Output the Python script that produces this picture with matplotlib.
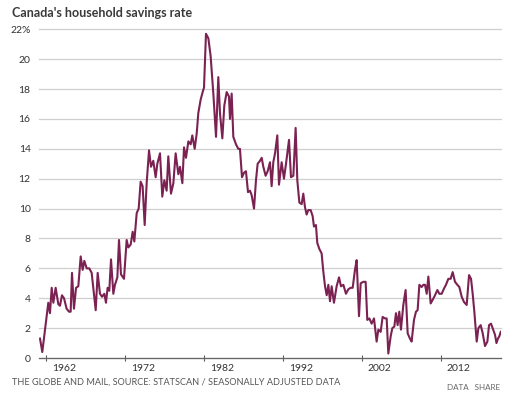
import numpy as np
import matplotlib
matplotlib.use("Agg")
import matplotlib.pyplot as plt
import matplotlib.transforms as mtransforms

# quarterly household savings rate (%)
years = [
    1961.28, 1961.57, 1962.33, 1962.54, 1962.76, 1962.97, 1963.26, 1963.60, 1963.81, 1964.06,
    1964.32, 1964.65, 1964.95, 1965.16, 1965.33, 1965.58, 1965.84, 1966.13, 1966.43, 1966.68,
    1966.89, 1967.19, 1967.52, 1967.82, 1968.33, 1968.58, 1968.87, 1969.13, 1969.42, 1969.63,
    1969.84, 1970.05, 1970.27, 1970.56, 1970.77, 1971.07, 1971.28, 1971.53, 1971.91, 1972.25,
    1972.46, 1972.76, 1973.01, 1973.22, 1973.52, 1973.77, 1974.02, 1974.27, 1974.53, 1974.78,
    1975.08, 1975.33, 1975.62, 1975.92, 1976.13, 1976.47, 1976.76, 1977.02, 1977.31, 1977.52,
    1977.86, 1978.16, 1978.45, 1978.79, 1979.00, 1979.30, 1979.51, 1979.76, 1980.06, 1980.35,
    1980.56, 1980.86, 1981.11, 1981.32, 1981.62, 1981.87, 1982.04, 1982.29, 1982.59, 1982.88,
    1983.22, 1983.56, 1983.85, 1984.06, 1984.36, 1984.61, 1984.91, 1985.20, 1985.33, 1985.54,
    1985.75, 1986.09, 1986.38, 1986.59, 1986.85, 1987.10, 1987.35, 1987.61, 1987.86, 1988.07,
    1988.37, 1988.62, 1988.83, 1989.13, 1989.34, 1989.55, 1989.84, 1990.10, 1990.39, 1990.60,
    1990.81, 1991.03, 1991.32, 1991.53, 1991.87, 1992.16, 1992.42, 1992.80, 1993.05, 1993.35,
    1993.64, 1993.85, 1994.11, 1994.40, 1994.61, 1994.82, 1995.03, 1995.24, 1995.54, 1995.79,
    1995.96, 1996.21, 1996.38, 1996.64, 1996.93, 1997.14, 1997.36, 1997.57, 1997.78, 1997.99,
    1998.20, 1998.49, 1998.83, 1999.13, 1999.38, 1999.68, 2000.01, 2000.31, 2000.60, 2000.86,
    2001.15, 2001.36, 2001.66, 2001.87, 2002.21, 2002.50, 2002.71, 2002.97, 2003.26, 2003.56,
    2003.89, 2004.11, 2004.40, 2004.65, 2004.95, 2005.16, 2005.37, 2005.67, 2005.88, 2006.13,
    2006.34, 2006.55, 2006.76, 2006.97, 2007.27, 2007.56, 2007.82, 2008.11, 2008.32, 2008.62,
    2008.87, 2009.08, 2009.30, 2009.59, 2009.80, 2010.02, 2010.23, 2010.44, 2010.73, 2010.99,
    2011.28, 2011.58, 2011.83, 2012.13, 2012.42, 2012.67, 2012.97, 2013.26, 2013.52, 2013.81,
    2014.11, 2014.36, 2014.66, 2014.95, 2015.29, 2015.59, 2015.84, 2016.05, 2016.26, 2016.56,
    2016.77, 2017.06, 2017.32, 2017.61, 2017.91, 2018.12, 2018.37, 2018.67, 2018.88, 2019.06,
    2019.25, 2019.42, 2019.60,
]
rate = [
    1.3, 0.4, 3.7, 3.0, 4.7, 3.7, 4.7, 3.6, 3.5, 4.2,
    4.0, 3.3, 3.1, 3.1, 5.7, 3.3, 4.7, 4.8, 6.8, 5.9,
    6.5, 6.0, 6.0, 5.7, 3.2, 5.7, 4.3, 4.1, 4.3, 3.7,
    4.7, 4.5, 6.6, 4.3, 4.9, 5.4, 7.9, 5.6, 5.3, 7.9,
    7.4, 7.6, 8.45, 7.8, 9.7, 10.0, 11.8, 11.5, 8.9, 11.7,
    13.9, 12.8, 13.2, 12.1, 13.0, 13.7, 10.8, 11.9, 11.2, 13.5,
    11.0, 11.7, 13.7, 12.3, 12.8, 11.7, 14.1, 13.4, 14.5, 14.3,
    14.9, 14.0, 15.0, 16.4, 17.3, 17.8, 18.1, 21.7, 21.4, 20.2,
    17.7, 14.8, 18.8, 16.4, 14.7, 16.9, 17.8, 17.5, 16.0, 17.7,
    14.8, 14.3, 14.0, 14.0, 12.1, 12.4, 12.5, 11.1, 11.2, 10.9,
    10.0, 11.9, 13.0, 13.2, 13.4, 12.8, 12.2, 12.5, 13.1, 11.5,
    13.1, 13.7, 14.9, 11.6, 13.1, 12.0, 13.0, 14.6, 12.1, 12.2,
    15.4, 11.9, 10.4, 10.3, 11.0, 10.1, 9.6, 9.9, 9.9, 9.5,
    8.8, 8.9, 7.7, 7.3, 7.0, 5.8, 4.8, 4.2, 4.9, 3.8,
    4.8, 3.7, 4.8, 5.4, 4.8, 4.9, 4.3, 4.6, 4.7, 4.7,
    5.9, 6.55, 2.8, 5.0, 5.1, 5.1, 2.55, 2.65, 2.3, 2.65,
    1.1, 1.9, 1.75, 2.75, 2.65, 2.65, 0.3, 1.45, 2.0, 2.1,
    3.0, 2.2, 3.1, 1.9, 3.55, 4.55, 1.65, 1.3, 1.1, 2.55,
    3.1, 3.2, 4.9, 4.75, 4.9, 4.9, 4.3, 5.45, 3.65, 3.9,
    4.2, 4.55, 4.3, 4.3, 4.65, 4.9, 5.3, 5.3, 5.75, 5.1,
    4.9, 4.75, 4.1, 3.75, 3.55, 5.55, 5.3, 4.3, 3.1, 1.1,
    2.0, 2.2, 1.65, 0.8, 1.1, 2.2, 2.3, 1.85, 1.55, 1.0,
    1.3, 1.45, 1.75,
]

yticks = [0, 2, 4, 6, 8, 10, 12, 14, 16, 18, 20, 22]
ytick_labels = ["0", "2", "4", "6", "8", "10", "12", "14", "16", "18", "20", "22%"]
xticks = [1962, 1972, 1982, 1992, 2002, 2012]

plt.rcParams["font.family"] = ["Lato", "DejaVu Sans"]

fig = plt.figure(figsize=(5.26, 3.97), dpi=100)
ax = fig.add_axes([0.0741, 0.0982, 0.8783, 0.828])

ax.plot(years, rate, color="#7b2252", lw=1.5, solid_joinstyle="round", zorder=3)

ax.set_xlim(1961.15, 2019.63)
ax.set_ylim(0, 22)

ax.set_yticks(yticks)
ax.set_yticklabels(ytick_labels)
ax.grid(axis="y", color="#cfcfcf", lw=0.9)
for gl in ax.get_ygridlines():
    gl.set_clip_on(False)
ax.tick_params(axis="y", length=0, pad=6, labelsize=7.5, labelcolor="#333333")

ax.set_xticks(xticks)
ax.set_xticklabels([str(x) for x in xticks])
ax.tick_params(axis="x", direction="inout", length=5, width=0.8, color="#555555",
               pad=2, labelsize=7.5, labelcolor="#333333")
offset = mtransforms.ScaledTranslation(6 / 100, 0, fig.dpi_scale_trans)
for lab in ax.get_xticklabels():
    lab.set_horizontalalignment("left")
    lab.set_transform(lab.get_transform() + offset)

for side in ["top", "right", "left"]:
    ax.spines[side].set_visible(False)
ax.spines["bottom"].set_color("#666666")
ax.spines["bottom"].set_linewidth(0.9)

fig.text(12 / 526, 1 - 13 / 397, "Canada's household savings rate", fontsize=9,
         fontweight="bold", color="#3a3a3a", ha="left", va="center")
fig.text(12 / 526, 1 - 382 / 397,
         "THE GLOBE AND MAIL, SOURCE: STATSCAN / SEASONALLY ADJUSTED DATA",
         fontsize=6.6, color="#555555", ha="left", va="center")
fig.text(500 / 526, 1 - 387 / 397, "DATA   SHARE", fontsize=5.8, color="#666666",
         ha="right", va="center")

fig.savefig("out.png", dpi=100)
